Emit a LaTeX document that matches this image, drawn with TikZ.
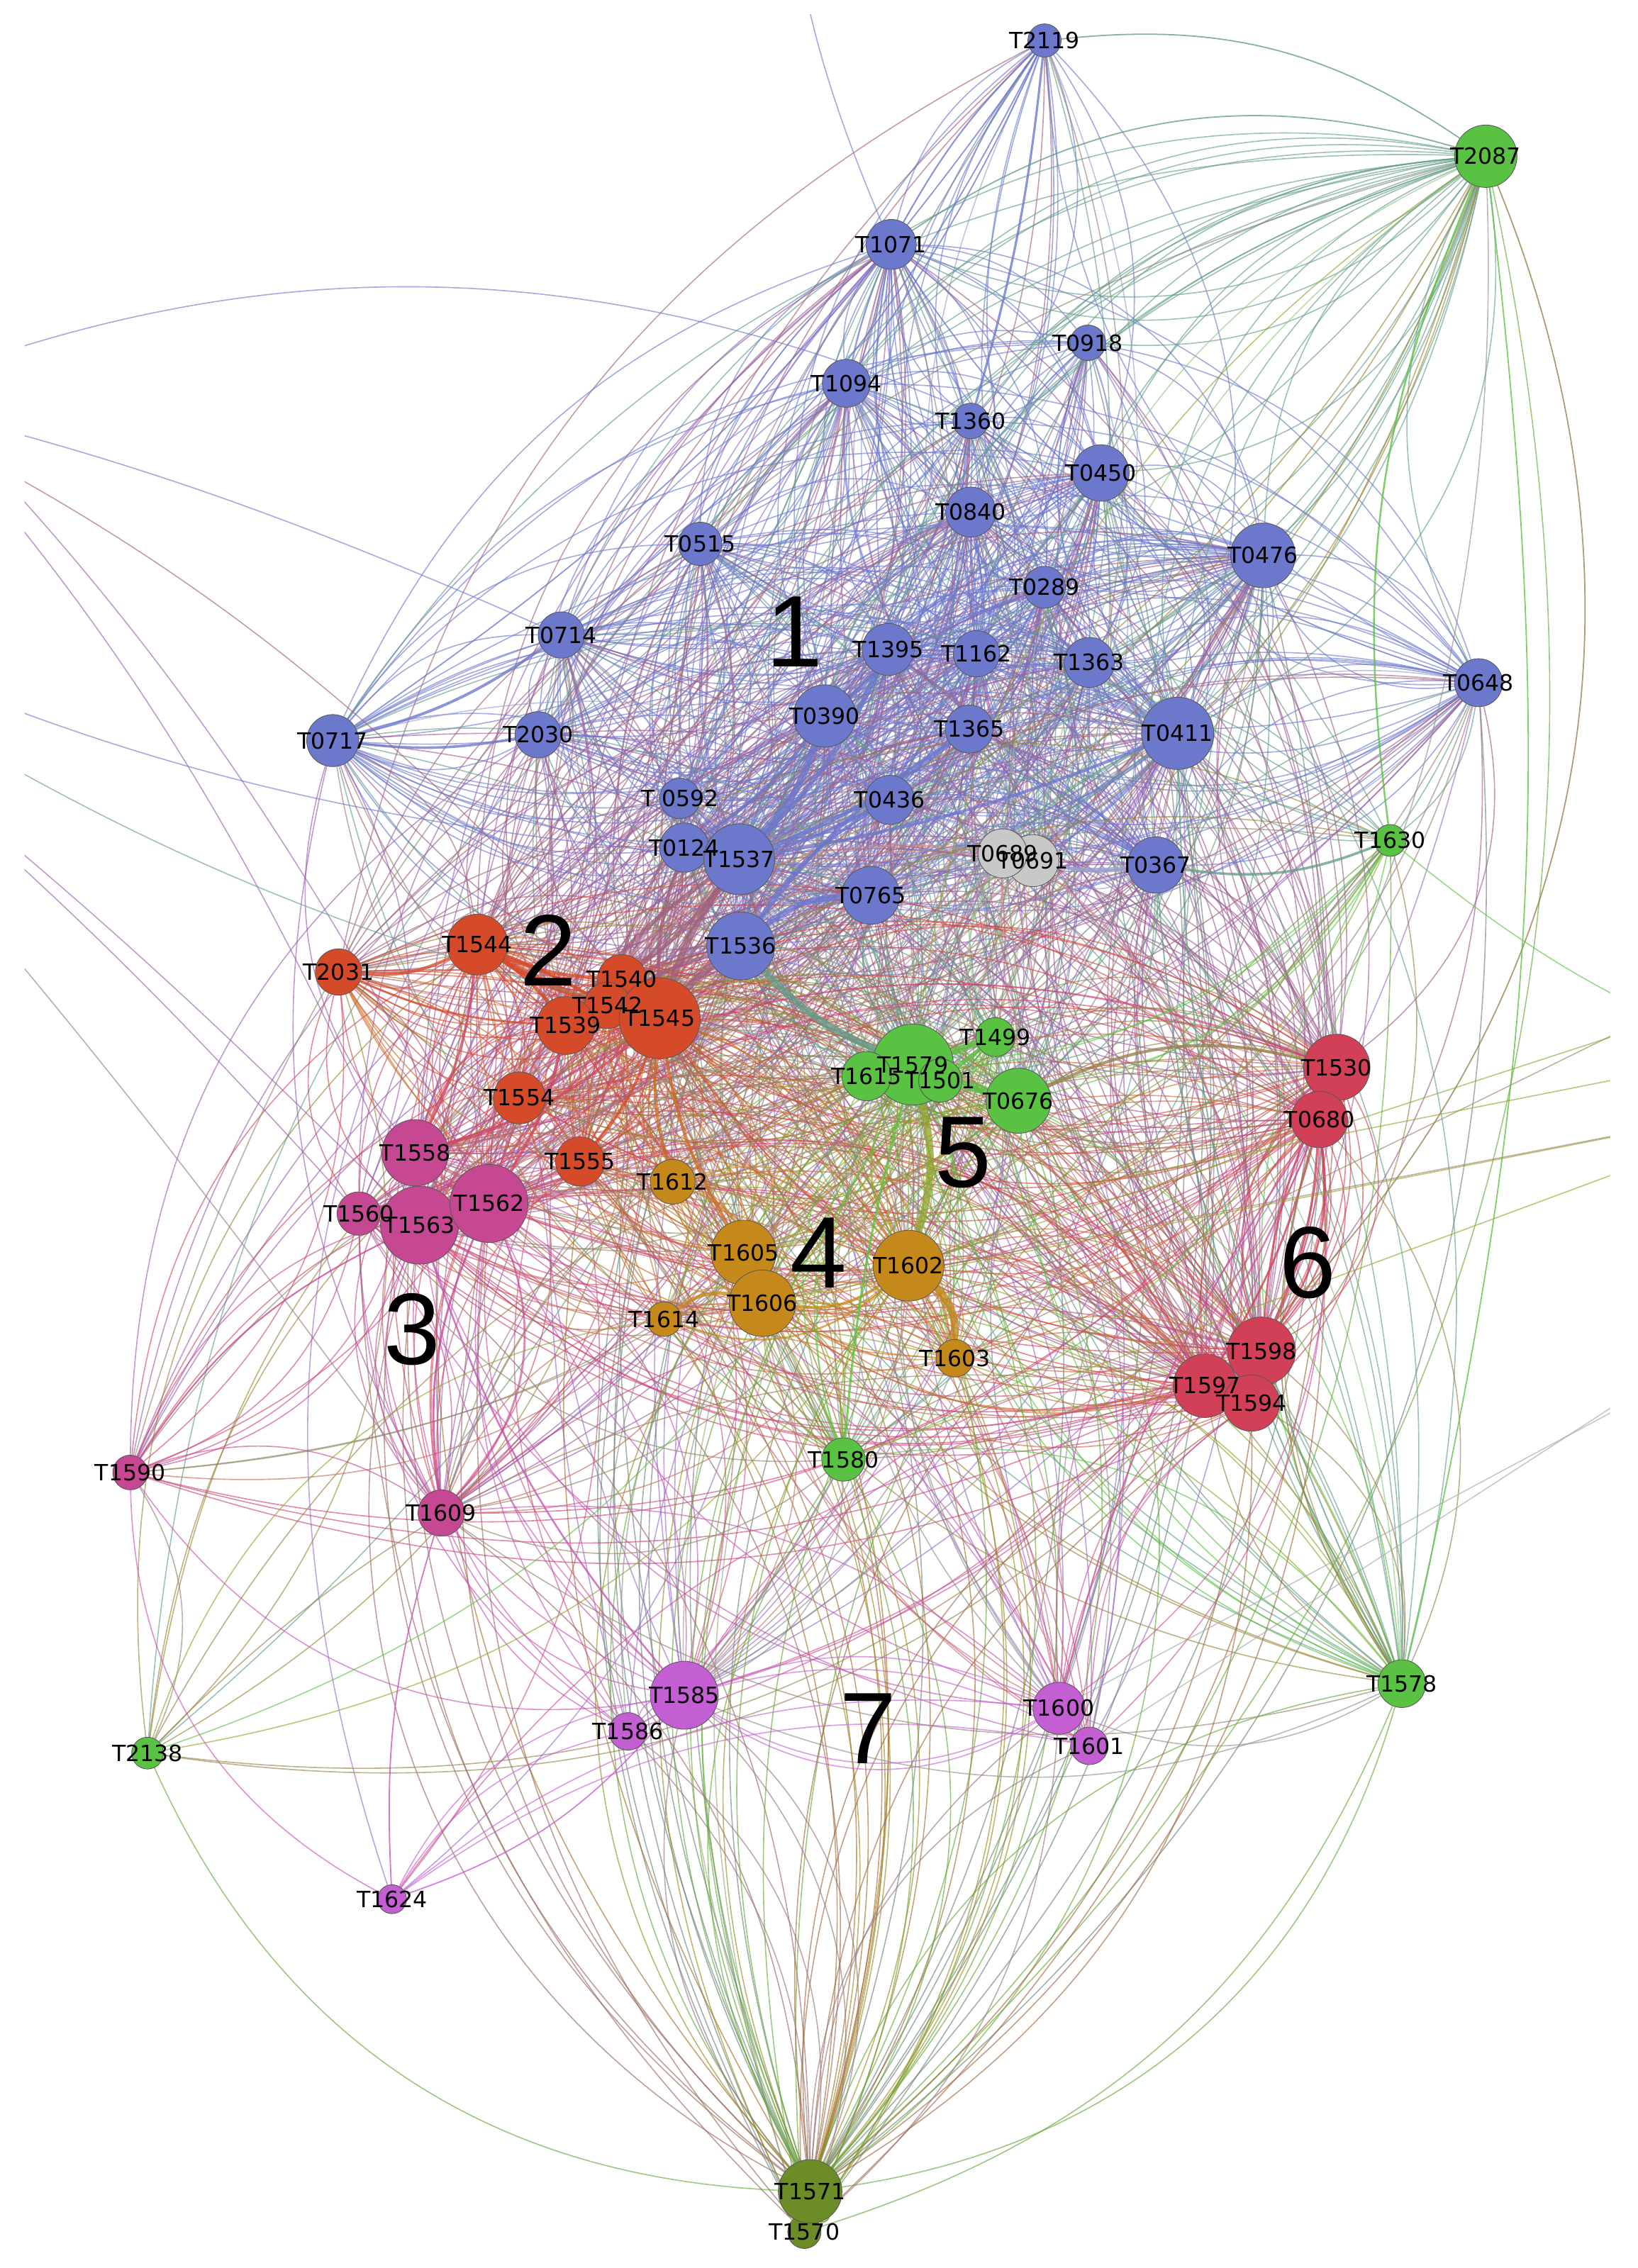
\documentclass[tikz,border=0pt]{standalone}
\usepackage{fontspec}
\newfontfamily\lblfont{DejaVu Sans}
\newfontfamily\numfont{Liberation Sans}
\pgfdeclarelayer{edges}
\pgfdeclarelayer{labels}
\pgfsetlayers{edges,main,labels}
\definecolor{cb}{RGB}{108,120,204}
\definecolor{cg}{RGB}{200,200,200}
\definecolor{co}{RGB}{213,75,42}
\definecolor{cm}{RGB}{198,72,146}
\definecolor{cy}{RGB}{197,137,27}
\definecolor{cgr}{RGB}{90,194,66}
\definecolor{cr}{RGB}{209,64,86}
\definecolor{cv}{RGB}{195,95,210}
\definecolor{cl}{RGB}{107,140,38}
\newcommand\setcf[3]{\expandafter\xdef\csname cf#1x#2\endcsname{#3}\expandafter\xdef\csname cf#2x#1\endcsname{#3}}
\foreach \qa in {1,...,10}{\foreach \qb in {1,...,10}{\setcf{\qa}{\qb}{0.5}}}
\setcf{1}{1}{2.8}\setcf{2}{2}{3}\setcf{3}{3}{3}\setcf{4}{4}{3}\setcf{5}{5}{2.5}
\setcf{6}{6}{3}\setcf{7}{7}{2.5}\setcf{8}{8}{3}\setcf{9}{9}{3}
\setcf{1}{2}{1.4}\setcf{1}{3}{1.0}\setcf{1}{4}{0.6}\setcf{1}{5}{1.1}\setcf{1}{6}{1.3}
\setcf{1}{7}{0.35}\setcf{1}{8}{0.35}\setcf{1}{9}{2.0}
\setcf{2}{3}{2.2}\setcf{2}{4}{1.8}\setcf{2}{5}{1.2}\setcf{2}{6}{1.4}\setcf{2}{7}{0.7}
\setcf{2}{8}{0.6}\setcf{2}{9}{0.9}
\setcf{3}{4}{1.4}\setcf{3}{5}{0.8}\setcf{3}{6}{1.5}\setcf{3}{7}{1.3}\setcf{3}{8}{0.8}\setcf{3}{9}{0.7}
\setcf{4}{5}{1.4}\setcf{4}{6}{1.5}\setcf{4}{7}{0.8}\setcf{4}{8}{0.8}\setcf{4}{9}{0.7}
\setcf{5}{6}{1.4}\setcf{5}{7}{0.6}\setcf{5}{8}{1.1}\setcf{5}{9}{0.9}
\setcf{6}{7}{1.1}\setcf{6}{8}{0.7}\setcf{6}{9}{1.2}
\setcf{7}{8}{0.8}\setcf{7}{9}{0.5}\setcf{8}{9}{0.4}
\setcf{10}{1}{1.2}\setcf{10}{2}{0.45}\setcf{10}{3}{0.2}\setcf{10}{4}{0.3}\setcf{10}{5}{0.08}
\setcf{10}{6}{0.08}\setcf{10}{7}{0.05}\setcf{10}{8}{0.1}\setcf{10}{9}{0.9}\setcf{10}{10}{0}
\begin{document}
\begin{tikzpicture}[x=0.02cm,y=-0.02cm,
  vtx/.style={circle,draw=black!65,line width=0.25pt,inner sep=0pt},
  lbl/.style={font=\lblfont\fontsize{8.8}{10}\selectfont,text=black,inner sep=0pt},
  bignum/.style={font=\numfont\fontsize{40}{44}\selectfont,text=black,inner sep=0pt},
  edge/.style={line width=0.45pt,draw opacity=0.62},
  heavy/.style={draw opacity=0.78}]
\useasboundingbox (0,0) rectangle (1132,1568);
\pgfmathsetseed{7}
% ---------- nodes ----------
\begin{scope}
\clip (17,10) rectangle (1113,1555);
\foreach \nm/\tx/\px/\py/\rad/\cc/\cls/\wt [count=\i] in {
T2119/T2119/722/28/11.5/cb/1/0.25,
T1071/T1071/616/169/17.3/cb/1/0.75,
T0918/T0918/752/237/12.3/cb/1/0.5,
T1094/T1094/585/265/16.6/cb/1/0.7,
T1360/T1360/671/291/12.3/cb/1/0.5,
T0450/T0450/761/327/19.5/cb/1/0.8,
T0840/T0840/671/354/17.3/cb/1/0.7,
T0515/T0515/484/376/15/cb/1/0.6,
T0476/T0476/873/384/22.4/cb/1/0.9,
T0289/T0289/722/406/14.5/cb/1/0.6,
T0714/T0714/388/439/16/cb/1/0.6,
T1395/T1395/614/449/18/cb/1/0.75,
T1162/T1162/675/452/16/cb/1/0.7,
T1363/T1363/753/458/17.3/cb/1/0.7,
T0648/T0648/1022/472/16.6/cb/1/0.6,
T0390/T0390/570/495/21.6/cb/1/0.9,
T1365/T1365/670/504/16.6/cb/1/0.7,
T0411/T0411/814/507/25/cb/1/1.0,
T0717/T0717/230/512/18/cb/1/0.6,
T2030/T2030/372/508/16/cb/1/0.6,
T0592/T 0592/470/552/14/cb/1/0.55,
T0436/T0436/615/553/17/cb/1/0.7,
T0124/T0124/473/586/17/cb/1/0.7,
T1537/T1537/511/594/24.5/cb/1/1.0,
T0765/T0765/602/619/20/cb/1/0.8,
T0367/T0367/799/598/19.5/cb/1/0.8,
T1536/T1536/512/654/23.5/cb/1/1.0,
T0691/T0691/714/595/18/cg/9/0.6,
T0689/T0689/693/590/17/cg/9/0.6,
T1540/T1540/430/677/17/co/2/0.7,
T1542/T1542/420/695/16/co/2/0.6,
T1539/T1539/391/709/20/co/2/0.8,
T1544/T1544/330/653/21/co/2/0.85,
T2031/T2031/234/672/16/co/2/0.6,
T1545/T1545/456/704/28/co/2/1.1,
T1554/T1554/359/759/18/co/2/0.7,
T1555/T1555/401/803/17/co/2/0.7,
T1558/T1558/287/797/23/cm/3/0.9,
T1560/T1560/248/839/15/cm/3/0.6,
T1563/T1563/290/847/27/cm/3/1.05,
T1562/T1562/338/832/27/cm/3/1.05,
T1590/T1590/90/1018/12/cm/3/0.45,
T1609/T1609/305/1046/16/cm/3/0.6,
T1612/T1612/465/817/15.5/cy/4/0.6,
T1605/T1605/514/866/22.5/cy/4/0.9,
T1606/T1606/527/901/23/cy/4/0.95,
T1602/T1602/628/875/24.5/cy/4/1.0,
T1614/T1614/459/912/12/cy/4/0.45,
T1603/T1603/660/939/13/cy/4/0.5,
T2087/T2087/1027/108/21.6/cgr/10/1.8,
T1630/T1630/961/581/11/cgr/5/0.3,
T1499/T1499/688/717/13.5/cgr/5/0.5,
T1579/T1579/631/736/28/cgr/5/1.1,
T1615/T1615/599/744/17/cgr/5/0.7,
T1501/T1501/650/747/15/cgr/5/0.6,
T0676/T0676/704/761/22.5/cgr/5/0.9,
T1580/T1580/583/1009/15/cgr/5/0.6,
T1578/T1578/969/1164/16.5/cgr/5/0.8,
T2138/T2138/102/1212/11/cgr/5/0.28,
T1530/T1530/924/738/23/cr/6/0.95,
T0680/T0680/912/774/19.5/cr/6/0.8,
T1598/T1598/872/934/23.5/cr/6/0.95,
T1597/T1597/833/958/22/cr/6/0.9,
T1594/T1594/865/970/19.5/cr/6/0.8,
T1585/T1585/473/1172/23.5/cv/7/0.9,
T1586/T1586/434/1197/13/cv/7/0.5,
T1601/T1601/753/1207/13/cv/7/0.5,
T1600/T1600/732/1181/18/cv/7/0.7,
T1624/T1624/271/1313/10/cv/7/0.18,
T1570/T1570/556/1543/11.5/cl/8/0.6,
T1571/T1571/560/1515/22/cl/8/2.2}{
  \node[vtx,fill=\cc,minimum size=\rad*0.04cm] (\nm) at (\px,\py) {};
  \expandafter\xdef\csname nn\i\endcsname{\nm}
  \expandafter\xdef\csname nt\i\endcsname{\tx}
  \expandafter\xdef\csname nc\i\endcsname{\cc}
  \expandafter\xdef\csname nk\i\endcsname{\cls}
  \expandafter\xdef\csname nw\i\endcsname{\wt}
  \expandafter\xdef\csname col@\nm\endcsname{\cc}
  \xdef\NN{\i}
}
\end{scope}
% off-canvas end points
\coordinate (oL1) at (-200,330);
\coordinate (oL2) at (-200,250);
\coordinate (oL3) at (-200,226);
\coordinate (oL4) at (-200,132);
\coordinate (oL5) at (-200,400);
\coordinate (oL6) at (-200,420);
\coordinate (oR1) at (1350,760);
\coordinate (oR2) at (1350,600);
\coordinate (oR3) at (1350,640);
\coordinate (oR4) at (1350,700);
\coordinate (oR5) at (1350,725);
\coordinate (oR6) at (1350,740);
\coordinate (oR7) at (1350,820);
\coordinate (oR8) at (1350,850);
\coordinate (oT1) at (540,-150);
% ---------- edges ----------
\begin{pgfonlayer}{edges}
\clip (17,10) rectangle (1113,1555);
\foreach \i in {1,...,\NN}{%
  \foreach \j in {1,...,\NN}{%
    \ifnum\j>\i\relax
      \edef\na{\csname nn\i\endcsname}\edef\nb{\csname nn\j\endcsname}%
      \edef\ca{\csname nc\i\endcsname}\edef\cbb{\csname nc\j\endcsname}%
      \edef\wa{\csname nw\i\endcsname}\edef\wb{\csname nw\j\endcsname}%
      \edef\fa{\csname cf\csname nk\i\endcsname x\csname nk\j\endcsname\endcsname}%
      \pgfmathtruncatemacro\nedg{floor(\wa*\wb*\fa+rnd)}%
      \ifnum\nedg>0\relax
        \foreach \m in {1,...,\nedg}{%
          \pgfmathsetmacro\bb{(rnd<0.5?-1:1)*(14+7*\m+12*rnd)}%
          \draw[edge,draw=\ca!50!\cbb] (\na) to[bend left=\bb] (\nb);
        }%
      \fi
    \fi
  }%
}
\foreach \ea/\eb/\lw/\bd in {
T1537/T0390/2.6/-12, T1537/T1395/1.8/-10, T1537/T1365/1.6/-8, T1537/T0436/1.4/-6,
T1537/T0411/1.2/-6, T0124/T0390/1.2/-10, T1536/T0765/2.2/18, T1536/T0436/1.2/12,
T1536/T1365/1.2/10, T0390/T1395/1.2/-10, T1545/T1537/2.4/8, T1545/T1536/2.4/6,
T1539/T1537/1.6/10, T1540/T1537/1.6/-8, T1545/T0124/1.4/10, T1542/T1536/1.2/8,
T1544/T1545/2.2/-8, T1544/T1539/1.4/10, T1544/T1540/1.4/-10, T1544/T1542/1.2/4,
T2031/T1544/1.2/-15, T2031/T1539/0.8/-10, T1545/T1555/1.1/10, T1539/T1562/1.1/10,
T1545/T1558/1.1/12, T1544/T1558/1.0/10, T1579/T1536/2.8/12, T1579/T1602/2.8/15,
T1602/T1603/3.0/25, T1606/T1614/1.4/-25, T1606/T1602/1.1/-20, T1605/T1545/1.2/10,
T1612/T1545/1.0/10, T1579/T1499/2.4/0, T1579/T0676/2.4/0, T1501/T0676/2.0/0,
T1501/T1499/1.6/0, T1630/T0367/1.0/15, T2087/T1630/0.7/-15, T1580/T1579/0.9/5,
T1580/T1585/0.7/5, T0680/T1598/0.9/10, T0680/T1598/0.8/20, T0680/T1597/0.8/8,
T1530/T1598/0.8/-10, T0676/T1530/1.2/20, T0689/T0367/1.4/-10, T0691/T0367/1.2/-10,
T2119/T1360/0.9/5, T2119/T1071/0.6/-8, T2119/T1094/0.5/5, T2119/T2087/0.5/20,
T1071/T2087/0.5/25, T1071/T0648/0.5/-20, T2119/T0717/0.5/10, T2119/T0714/0.5/12,
T0717/T0714/1.1/-10, T0717/T2030/1.0/-8, T2087/T1597/0.5/35, T2087/T1578/0.5/10,
T1578/T0367/0.5/12, T1578/T0411/0.5/12, T1578/T0680/0.5/25, T1590/T1563/0.6/15,
T1609/T1562/0.8/15, T1585/T1563/0.7/10, T1600/T0680/0.6/10, T1624/T1609/0.5/10,
T1624/T1585/0.5/-15}{
  \edef\ca{\csname col@\ea\endcsname}\edef\cbb{\csname col@\eb\endcsname}
  \draw[heavy,draw=\ca!50!\cbb,line width=\lw pt] (\ea) to[bend left=\bd] (\eb);
}
\foreach \ea/\eb/\cc/\bd in {
oL1/T0450/cb/27, oL2/T0714/cb/6, oL3/T1545/co!50!cb/12, oL4/T1562/cm!50!cb/10,
oL4/T1563/cm!50!cb/11, oL5/T1537/cb/-10, oL5/T1579/cgr!50!cb/-12, oL6/T1563/cm!50!cb/4,
oL6/T1609/cy!40!cb/3, oL6/T1560/cm!50!cb/5, T1630/oR1/cgr/-15, oR2/T1603/cy!60!cb/0,
oR3/T1602/cgr!60!cy/0, oR4/T1605/cgr!50!cy/0, oR5/T1580/cgr!40!cy/0, oR6/T1606/cy!60!cgr/0,
oR6/T1614/cy!50!cb/0, oR7/T1601/black!35/0, oR8/T1600/black!35/0, T1071/oT1/cb/10}{
  \draw[edge,draw=\cc] (\ea) to[bend left=\bd] (\eb);
}
\end{pgfonlayer}
% ---------- labels ----------
\begin{pgfonlayer}{labels}
\clip (17,10) rectangle (1113,1555);
\foreach \i in {1,...,\NN}{%
  \edef\na{\csname nn\i\endcsname}\edef\ta{\csname nt\i\endcsname}%
  \node[lbl] (L\na) at (\na) {\ta};
}
\node[bignum] (g1) at (549,437) {1};
\node[bignum] (g2) at (379,657) {2};
\node[bignum] (g3) at (285,919) {3};
\node[bignum] (g4) at (566,866) {4};
\node[bignum] (g5) at (666,797) {5};
\node[bignum] (g6) at (904,873) {6};
\node[bignum] (g7) at (600,1195) {7};
\end{pgfonlayer}
\end{tikzpicture}
\end{document}
